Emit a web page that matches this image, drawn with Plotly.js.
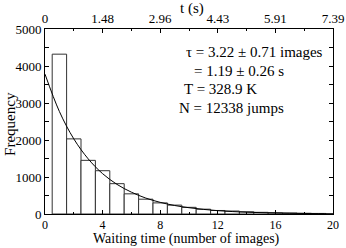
<!DOCTYPE html>
<html><head><meta charset="utf-8">
<script src="https://cdn.plot.ly/plotly-3.0.1.min.js"></script>
<style>html,body{margin:0;padding:0;background:#fff}#chart{width:346px;height:248px}</style>
</head><body><div id="chart"></div>
<script>
// Histogram of waiting times (bins centred on integers)
const binCenters = [1,2,3,4,5,6,7,8,9,10,11,12,13,14,15,16,17,18,19];
const counts = [4320,2030,1450,1170,820,545,400,300,240,180,130,95,80,60,45,35,28,20,15];
// Exponential fit curve
const fitX = [0,1,2,3,4,5,6,7,8,9,10,11,12,13,14,15,16,17,18,19,20];
const fitY = [3780,2770,2030,1490,1090,800,590,430,315,230,170,125,90,66,49,36,26,19,14,10,8];
// Top axis (time in seconds) labels
const topTickPos = [0,4,8,12,16,20];
const topTickText = ['0','1.48','2.96','4.43','5.91','7.39'];
// Annotation lines
const noteLines = ['τ = 3.22 ± 0.71 images','= 1.19 ± 0.26 s','T = 328.9 K','N = 12338 jumps'];
const noteX = [9.66,10.2,9.5,9.17];
const noteY = [4390,3870,3390,2860];
// Axis titles
const xTitle = 'Waiting time (number of images)';
const x2Title = 't (s)';
const yTitle = 'Frequency';

const fam = 'Liberation Serif';
const f = s => ({family:fam, color:'#000', size:s});
const traces = [
  {type:'bar', x:binCenters, y:counts, width:1, marker:{color:'#fff', line:{color:'#333', width:1}}, showlegend:false, hoverinfo:'skip'},
  {type:'scatter', mode:'lines', x:fitX, y:fitY, line:{color:'#000', width:1, shape:'spline'}, showlegend:false, hoverinfo:'skip'},
  {type:'scatter', mode:'markers', x:topTickPos, y:topTickPos.map(()=>null), xaxis:'x2', yaxis:'y', showlegend:false, hoverinfo:'skip'}
];
const layout = {
  width:346, height:248,
  margin:{l:45, r:13, t:29, b:34},
  paper_bgcolor:'#fff', plot_bgcolor:'#fff',
  font:f(13),
  bargap:0,
  xaxis:{range:[0,20], tickmode:'linear', tick0:0, dtick:4, ticks:'inside', ticklen:4, tickcolor:'#000',
    showline:true, linecolor:'#000', linewidth:1, showgrid:false, zeroline:false, automargin:false,
    tickfont:f(12),
    minor:{dtick:2, ticks:'inside', ticklen:2, tickcolor:'#000'}},
  xaxis2:{overlaying:'x', side:'top', anchor:'y', range:[0,20], tickmode:'array', tickvals:topTickPos, ticktext:topTickText,
    ticks:'inside', ticklen:4, tickcolor:'#000', showline:true, linecolor:'#000', linewidth:1, showgrid:false, zeroline:false, automargin:false,
    tickfont:f(13),
    minor:{tickmode:'linear', tick0:0, dtick:2, ticks:'inside', ticklen:2, tickcolor:'#000'}},
  yaxis:{range:[0,5000], tickmode:'linear', tick0:0, dtick:1000, ticks:'inside', ticklen:4, tickcolor:'#000',
    showline:true, linecolor:'#000', linewidth:1, mirror:'allticks', showgrid:false, zeroline:false, automargin:false,
    tickfont:f(13),
    minor:{dtick:500, ticks:'inside', ticklen:2, tickcolor:'#000'}},
  annotations: noteLines.map((t,i)=>({x:noteX[i], y:noteY[i], xref:'x', yref:'y', text:t, showarrow:false,
    xanchor:'left', yanchor:'middle', font:f(15)})).concat([
    {xref:'paper', yref:'paper', x:0.49, y:-34/185, text:xTitle, showarrow:false, xanchor:'center', yanchor:'bottom', font:f(14), borderpad:0},
    {xref:'paper', yref:'paper', x:0.51, y:1.111, text:x2Title, showarrow:false, xanchor:'center', yanchor:'middle', font:f(15)},
    {xref:'paper', yref:'paper', x:-0.1215, y:0.487, text:yTitle, showarrow:false, xanchor:'center', yanchor:'middle', textangle:-90, font:f(15)}
  ])
};
Plotly.newPlot('chart', traces, layout, {staticPlot:true, displayModeBar:false});
</script></body></html>
